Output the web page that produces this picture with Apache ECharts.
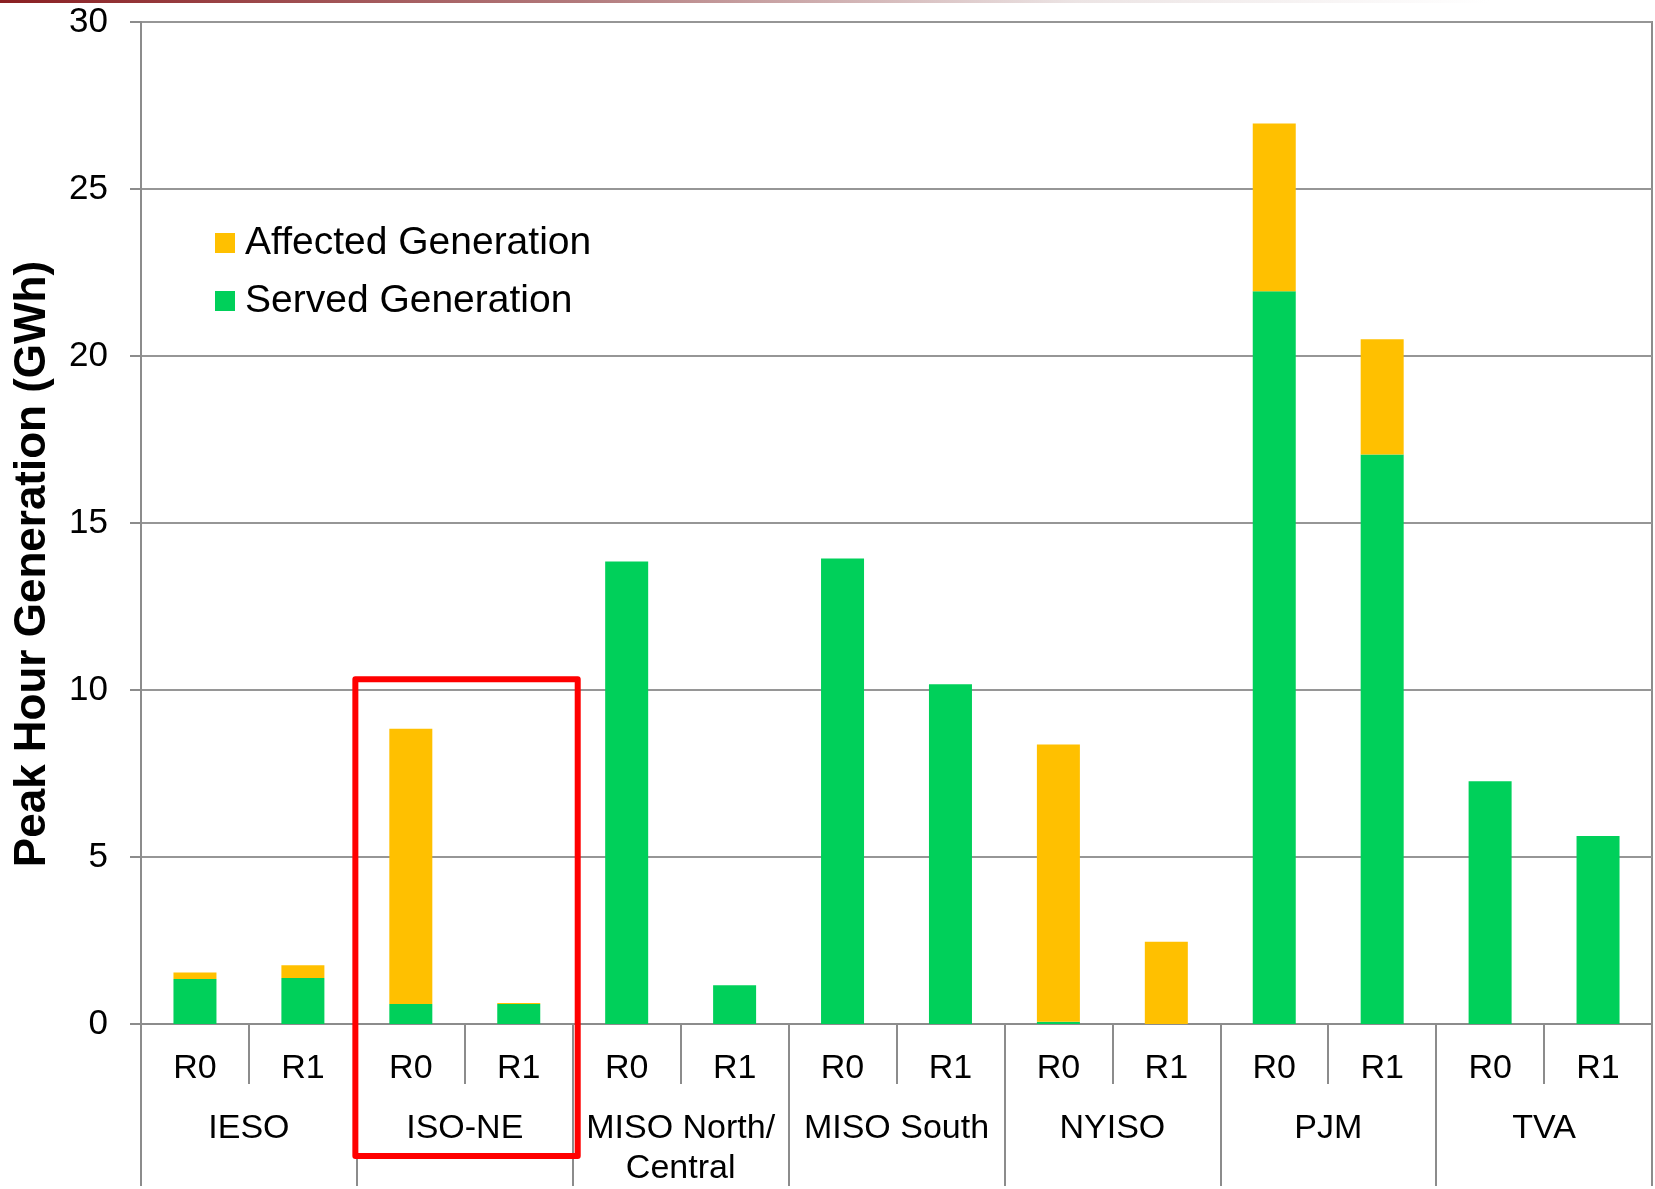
<!DOCTYPE html>
<html>
<head>
<meta charset="utf-8">
<script src="https://cdn.jsdelivr.net/npm/echarts/dist/echarts.min.js"></script>
<style>
html,body{margin:0;padding:0;background:#fff;overflow:hidden;}
#c{width:1655px;height:1189px;}
</style>
</head>
<body>
<div id="c"></div>
<script>
// ---- data ----
const regions = ['IESO', 'ISO-NE', 'MISO North/\nCentral', 'MISO South', 'NYISO', 'PJM', 'TVA'];
const cases = ['R0', 'R1', 'R0', 'R1', 'R0', 'R1', 'R0', 'R1', 'R0', 'R1', 'R0', 'R1', 'R0', 'R1'];
const servedGeneration   = [1.35, 1.38, 0.60, 0.60, 13.85, 1.16, 13.94, 10.17, 0.07, 0.00, 21.94, 17.05, 7.27, 5.63];
const affectedGeneration = [0.19, 0.38, 8.24, 0.03, 0.00, 0.00, 0.00, 0.00, 8.30, 2.46, 5.02, 3.45, 0.00, 0.00];
const yMin = 0, yMax = 30, yStep = 5;
const yTitle = 'Peak Hour Generation (GWh)';
const seriesNames = ['Affected Generation', 'Served Generation'];
const highlightRegion = 'ISO-NE';
const highlightTopValue = 10.32;

// ---- chart ----
const FONT = '"Liberation Sans", Arial, Helvetica, sans-serif';
const GRAY = '#8c8c8c';
const chart = echarts.init(document.getElementById('c'), null, {renderer: 'canvas', width: 1655, height: 1189});

chart.setOption({
  animation: false,
  backgroundColor: '#ffffff',
  textStyle: {fontFamily: FONT, color: '#000'},
  grid: {
    left: 141, right: 3, top: 22, bottom: 162,
    show: true, borderColor: GRAY, borderWidth: 2, containLabel: false
  },
  legend: {
    orient: 'vertical', left: 215, top: 223, padding: 0,
    itemWidth: 20, itemHeight: 20, itemGap: 18, icon: 'rect',
    data: seriesNames,
    textStyle: {fontFamily: FONT, fontSize: 39, lineHeight: 40, color: '#000', padding: [0, 0, 0, 5]}
  },
  xAxis: [
    {
      type: 'category', data: cases, position: 'bottom',
      axisLine: {show: true, lineStyle: {color: GRAY, width: 2}},
      axisTick: {show: true, interval: 0, length: 60, lineStyle: {color: GRAY, width: 2}},
      axisLabel: {interval: 0, margin: 27, fontFamily: FONT, fontSize: 34, lineHeight: 36, color: '#000'},
      splitLine: {show: false}
    },
    {
      type: 'category', data: regions, position: 'bottom',
      axisLine: {show: false},
      axisTick: {show: true, interval: 0, length: 162, lineStyle: {color: GRAY, width: 2}},
      axisLabel: {interval: 0, margin: 85, fontFamily: FONT, fontSize: 34, lineHeight: 40, color: '#000'},
      splitLine: {show: false}
    }
  ],
  yAxis: {
    type: 'value', min: yMin, max: yMax, interval: yStep,
    axisLine: {show: true, lineStyle: {color: GRAY, width: 2}},
    axisTick: {show: true, length: 11, lineStyle: {color: GRAY, width: 2}},
    axisLabel: {margin: 33, fontFamily: FONT, fontSize: 35, color: '#000'},
    splitLine: {show: true, lineStyle: {color: '#969696', width: 2}}
  },
  series: [
    {
      name: seriesNames[1], type: 'bar', stack: 'gen', xAxisIndex: 0,
      data: servedGeneration, barWidth: 43,
      itemStyle: {color: '#00D05A'}, emphasis: {disabled: true}
    },
    {
      name: seriesNames[0], type: 'bar', stack: 'gen', xAxisIndex: 0,
      data: affectedGeneration, barWidth: 43,
      itemStyle: {color: '#FFC000'}, emphasis: {disabled: true}
    }
  ]
});

// annotation elements positioned from the chart's own scales
const gi = regions.indexOf(highlightRegion) * 2;
const cx0 = chart.convertToPixel({xAxisIndex: 0}, gi);
const cx1 = chart.convertToPixel({xAxisIndex: 0}, gi + 1);
const band = cx1 - cx0;
const boxLeft = cx0 - band / 2 - 1.5;
const boxRight = cx1 + band / 2 + 5;
const boxTop = chart.convertToPixel({yAxisIndex: 0}, highlightTopValue);
const zeroY = chart.convertToPixel({yAxisIndex: 0}, 0);
const boxBottom = zeroY + 132;

chart.setOption({
  graphic: [
    {
      id: 'topbar', type: 'rect', left: 0, top: 0, z: 100,
      shape: {width: 1655, height: 3},
      style: {
        fill: new echarts.graphic.LinearGradient(0, 0, 1, 0, [
          {offset: 0, color: '#8a1f22'},
          {offset: 0.35, color: '#b27a7c'},
          {offset: 0.65, color: '#ece4e4'},
          {offset: 0.9, color: '#ffffff'},
          {offset: 1, color: '#ffffff'}
        ])
      }
    },
    {
      id: 'ytitle', type: 'text', x: 33, y: 564, rotation: Math.PI / 2, z: 100,
      style: {
        text: yTitle, fill: '#000',
        font: 'bold 44px ' + FONT,
        textAlign: 'center', textVerticalAlign: 'middle'
      }
    },
    {
      id: 'highlight', type: 'rect', z: 100,
      shape: {x: boxLeft, y: boxTop, width: boxRight - boxLeft, height: boxBottom - boxTop},
      style: {fill: 'none', stroke: '#ff0000', lineWidth: 6, lineJoin: 'round'}
    }
  ]
});
</script>
</body>
</html>
